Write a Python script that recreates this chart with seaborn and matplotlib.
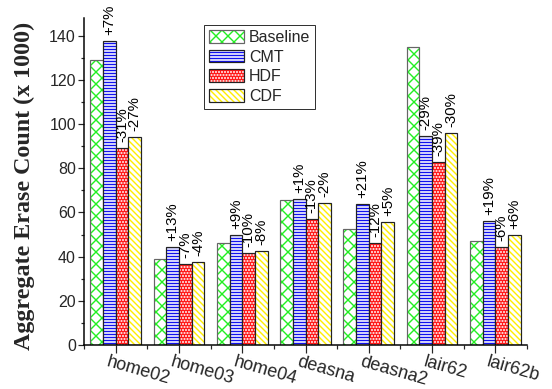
import numpy as np
import pandas as pd
import matplotlib
matplotlib.use("Agg")
import matplotlib.pyplot as plt
import seaborn as sns
from matplotlib.colors import to_rgba
from matplotlib.transforms import ScaledTranslation
from matplotlib.ticker import MultipleLocator, FixedLocator

# ---- data ----
traces = ["home02", "home03", "home04", "deasna", "deasna2", "lair62", "lair62b"]
schemes = ["Baseline", "CMT", "HDF", "CDF"]
baseline = [129, 39, 46, 65.5, 52.5, 135, 47]
cmt = [137.5, 44.5, 50, 66, 63.7, 94.5, 56]
hdf = [89, 36.5, 41.5, 57, 46.2, 83, 44.2]
cdf = [94.2, 37.5, 42.5, 64.3, 55.5, 95.8, 49.8]
pct_cmt = ["+7%", "+13%", "+9%", "+1%", "+21%", "-29%", "+19%"]
pct_hdf = ["-31%", "-7%", "-10%", "-13%", "-12%", "-39%", "-6%"]
pct_cdf = ["-27%", "-4%", "-8%", "-2%", "+5%", "-30%", "+6%"]

df = pd.DataFrame({
    "trace": traces * 4,
    "scheme": sum([[s] * len(traces) for s in schemes], []),
    "value": baseline + cmt + hdf + cdf,
})

sns.set_style("white")
plt.rcParams["font.family"] = ["Liberation Sans", "DejaVu Sans"]
plt.rcParams["hatch.linewidth"] = 1.4

DPI = 72
fig = plt.figure(figsize=(552 / DPI, 389 / DPI), dpi=DPI)
ax = fig.add_axes([84 / 552, 44 / 389, 443 / 552, 327 / 389])

sns.barplot(data=df, x="trace", y="value", hue="scheme", order=traces,
            hue_order=schemes, ax=ax, width=0.8, gap=0, legend=False,
            errorbar=None, saturation=1)

styles = {
    "Baseline": dict(face="white", hatch="xx", hcolor="#22ee22", edge="#666666"),
    "CMT": dict(face="white", hatch="----", hcolor="#1111ee", edge="#222222"),
    "HDF": dict(face="#ff1a1a", hatch="....", hcolor="white", edge="#222222"),
    "CDF": dict(face="white", hatch="\\\\\\\\", hcolor="#ffee00", edge="#222222"),
}
for cont, s in zip(ax.containers, schemes):
    st = styles[s]
    for p in cont.patches:
        p.set_facecolor(st["face"])
        p.set_edgecolor(st["edge"])
        p.set_linewidth(1.2)
        p.set_hatch(st["hatch"])
        p._hatch_color = to_rgba(st["hcolor"])

# percentage labels
for cont, labels in zip(ax.containers[1:], [pct_cmt, pct_hdf, pct_cdf]):
    for p, lab in zip(cont.patches, labels):
        ax.annotate(lab, (p.get_x() + p.get_width() / 2, p.get_height()),
                    xytext=(0, 6), textcoords="offset points",
                    rotation=90, ha="center", va="bottom", fontsize=15,
                    color="black")

ax.set_xlim(-0.5, 6.5)
ax.set_ylim(0, 148)
ax.yaxis.set_major_locator(MultipleLocator(20))
ax.yaxis.set_minor_locator(MultipleLocator(10))
ax.xaxis.set_minor_locator(FixedLocator(np.arange(-0.5, 7, 1)))
ax.tick_params(axis="y", which="major", direction="out", length=6, width=1.2,
               labelsize=16, left=True, pad=2)
ax.tick_params(axis="y", which="minor", direction="out", length=3, width=1.2, left=True)
ax.tick_params(axis="x", which="major", direction="out", length=8, width=1.2,
               labelsize=18, bottom=True, pad=1)
ax.tick_params(axis="x", which="minor", direction="out", length=4, width=1.2, bottom=True)

for sp in ["top", "right"]:
    ax.spines[sp].set_visible(False)
for sp in ["left", "bottom"]:
    ax.spines[sp].set_color("black")
    ax.spines[sp].set_linewidth(1.5)

ax.set_xlabel("")
ax.set_xticks(range(len(traces)))
ax.set_xticklabels(traces, rotation=-16, ha="left", va="top", rotation_mode="anchor")
off = ScaledTranslation(-6 / 72, 0, fig.dpi_scale_trans)
for lab in ax.get_xticklabels():
    lab.set_transform(lab.get_transform() + off)

ax.set_ylabel("Aggregate Erase Count (x 1000)", fontsize=24, fontweight="bold",
              family=["Liberation Serif", "DejaVu Serif"])
ax.yaxis.set_label_coords(-0.11, 0.485)

handles = [cont.patches[0] for cont in ax.containers]
leg = fig.legend(handles, schemes, loc="upper left",
                 bbox_to_anchor=(204 / 552, 1 - 25 / 389), fontsize=16,
                 frameon=True, fancybox=False, edgecolor="black",
                 handlelength=2.2, handleheight=0.85, handletextpad=0.3,
                 labelspacing=0.3, borderpad=0.3, borderaxespad=0)
leg.get_frame().set_linewidth(1.0)

fig.savefig("out.png", dpi=DPI)
